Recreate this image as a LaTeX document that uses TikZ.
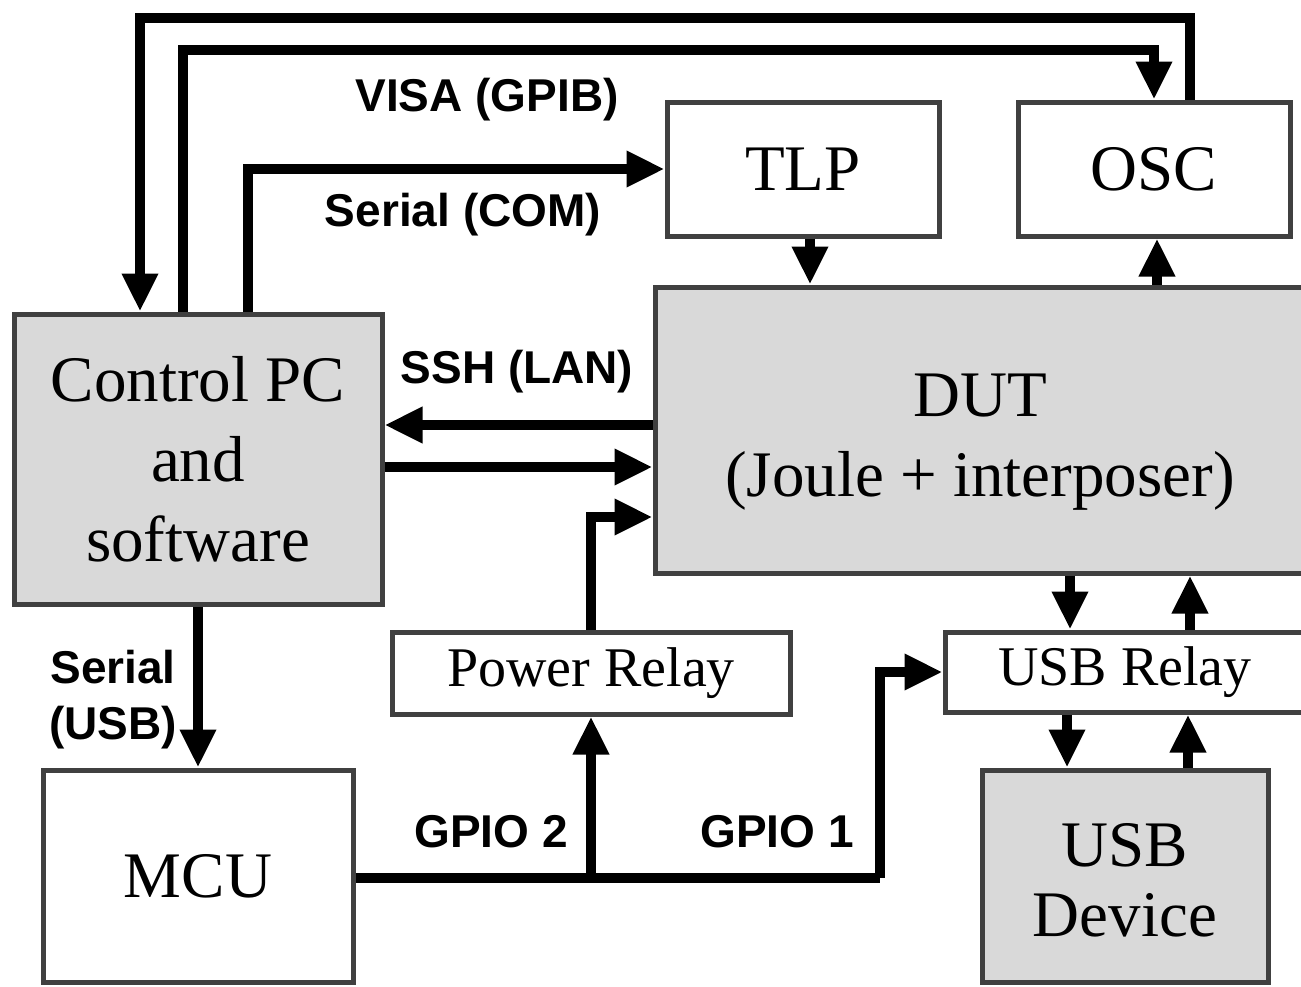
\documentclass[tikz,border=0pt]{standalone}
\usepackage{fontspec}
\setmainfont{Liberation Serif}
\setsansfont{Liberation Sans}
\usetikzlibrary{arrows.meta}
\definecolor{boxgray}{HTML}{D9D9D9}
\definecolor{edge}{HTML}{404040}
\tikzset{
  box/.style={draw=edge, line width=5pt, fill=white, inner sep=0pt, align=center,
    font=\fontsize{65}{80}\selectfont},
  gbox/.style={box, fill=boxgray},
  rbox/.style={box, font=\fontsize{56}{64}\selectfont},
  arr/.style={line width=10pt, -{Triangle[width=34pt,length=38pt]}},
  wire/.style={line width=10pt},
  lab/.style={font=\sffamily\bfseries\fontsize{46}{56}\selectfont, align=center, inner sep=0pt},
  boxtext/.style={align=center, inner sep=0pt, font=\fontsize{65}{80}\selectfont}
}
\begin{document}
\begin{tikzpicture}[x=1pt,y=-1pt]
\useasboundingbox (0,0) rectangle (1301,986);
\clip (0,0) rectangle (1301,986);
% boxes
\node[gbox, minimum width=368pt, minimum height=290pt] (pc) at (198,459) {Control PC\\and\\software};
\node[box, minimum width=310pt, minimum height=212pt] (mcu) at (198,876) {MCU};
\node[box, minimum width=272pt, minimum height=134pt] (tlp) at (803,169) {TLP};
\node[box, minimum width=272pt, minimum height=134pt] (osc) at (1154,169) {OSC};
\node[gbox, minimum width=650pt, minimum height=286pt] (dut) at (980,430) {};
\node[boxtext] (duttext) at (980,442) {DUT\\(Joule + interposer)};
\node[rbox, minimum width=398pt, minimum height=82pt] (prelay) at (591,673) {Power Relay};
\node[rbox, minimum width=360pt, minimum height=80pt] (urelay) at (1125,672) {USB Relay};
\node[gbox, minimum width=286pt, minimum height=212pt] (udev) at (1125,876) {};
\node[boxtext, font=\fontsize{65}{70}\selectfont] (udevtext) at (1125,880) {USB\\Device};
% coordinates
\coordinate (c1) at (600,18);
\coordinate (c2) at (600,50);
\coordinate (g1) at (880,878);
\coordinate (g2) at (591,878);
% top connectors
\draw[arr] ([xshift=36pt]osc.north) |- (c1) -| ([xshift=-58pt]pc.north);
\draw[arr] ([xshift=-15pt]pc.north) |- (c2) -| (osc.north);
\draw[arr] ([xshift=50pt]pc.north) |- (tlp.west);
\draw[arr] ([xshift=7pt]tlp.south) -- ([xshift=7pt]tlp.south |- dut.north);
\draw[arr] ([xshift=3pt]osc.south |- dut.north) -- ([xshift=3pt]osc.south);
% SSH
\draw[arr] ([yshift=5pt]dut.west) -- ([yshift=5pt]dut.west -| pc.east);
\draw[arr] ([yshift=-37pt]dut.west -| pc.east) -- ([yshift=-37pt]dut.west);
% power relay to DUT
\draw[arr] (prelay.north) |- ([yshift=-87pt]dut.west);
% PC to MCU
\draw[arr] (pc.south) -- (mcu.north);
% GPIO
\draw[wire] (mcu.east |- g1) -- (g1);
\draw[arr] (g1) |- (urelay.west);
\draw[arr] (g2) -- (prelay.south);
% DUT <-> USB relay
\draw[arr] ([xshift=-55pt]urelay.north |- dut.south) -- ([xshift=-55pt]urelay.north);
\draw[arr] ([xshift=65pt]urelay.north) -- ([xshift=65pt]urelay.north |- dut.south);
% USB relay <-> USB device
\draw[arr] ([xshift=-58pt]urelay.south) -- ([xshift=-58pt]urelay.south |- udev.north);
\draw[arr] ([xshift=63pt]urelay.south |- udev.north) -- ([xshift=63pt]urelay.south);
% labels
\node[lab] (lvisa) at (487,100) {VISA (GPIB)};
\node[lab] (lcom) at (463,215) {Serial (COM)};
\node[lab] (lssh) at (517,372) {SSH (LAN)};
\node[lab] (lusb) at (113,700) {Serial\\(USB)};
\node[lab] (lg2) at (491,832) {GPIO 2};
\node[lab] (lg1) at (777,832) {GPIO 1};
\end{tikzpicture}
\end{document}
